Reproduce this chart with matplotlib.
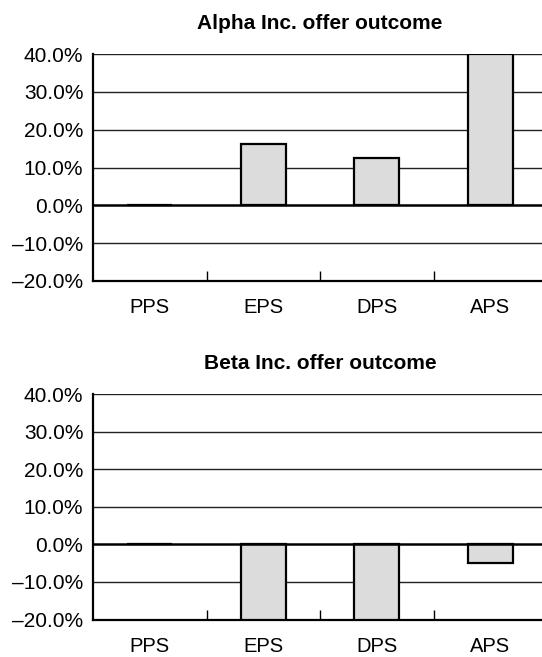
import matplotlib
matplotlib.use("Agg")
import matplotlib.pyplot as plt
from matplotlib.ticker import FixedLocator

plt.rcParams['font.family'] = ['Liberation Sans', 'DejaVu Sans']

categories = ["PPS", "EPS", "DPS", "APS"]
alpha_values = [0.0, 16.3, 12.4, 40.0]
beta_values = [0.0, -20.0, -20.0, -5.0]
titles = ["Alpha Inc. offer outcome", "Beta Inc. offer outcome"]
y_ticks = [-20, -10, 0, 10, 20, 30, 40]

fig = plt.figure(figsize=(5.42, 6.57), dpi=100)
W, H = 542, 657
rects = [(93, 54, 547, 281), (93, 394, 547, 619.5)]

def fmt(v, pos=None):
    s = f"{v:.1f}%"
    return s.replace("-", "\u2013")

for (l, t, r, b), vals, title in zip(rects, [alpha_values, beta_values], titles):
    ax = fig.add_axes([l / W, 1 - b / H, (r - l) / W, (b - t) / H])
    x = list(range(len(categories)))
    ax.set_axisbelow(True)
    ax.bar(x, vals, width=0.4, color="#dcdcdc", edgecolor="black", linewidth=1.6, zorder=3)
    ax.set_xlim(-0.5, len(categories) - 0.5)
    ax.set_ylim(-20, 40)
    ax.set_yticks(y_ticks)
    ax.yaxis.set_major_formatter(plt.FuncFormatter(fmt))
    for v in y_ticks:
        if v == 0:
            ax.axhline(0, color="black", lw=1.8, zorder=4)
        elif v != -20:
            ax.axhline(v, color="#222222", lw=1.0, zorder=1)
    ax.set_xticks(x)
    ax.set_xticklabels(categories)
    ax.xaxis.set_minor_locator(FixedLocator([0.5, 1.5, 2.5]))
    ax.tick_params(axis="x", which="major", length=0, pad=12.5, labelsize=14.5)
    ax.tick_params(axis="x", which="minor", direction="in", length=7.5, width=1.0, color="black")
    ax.tick_params(axis="y", length=0, pad=7, labelsize=15)
    for s in ["top", "right"]:
        ax.spines[s].set_visible(False)
    ax.spines["left"].set_linewidth(1.6)
    ax.spines["bottom"].set_linewidth(1.6)
    ax.set_title(title, fontsize=15, fontweight="bold", pad=18)

fig.savefig("out.png", dpi=100)
